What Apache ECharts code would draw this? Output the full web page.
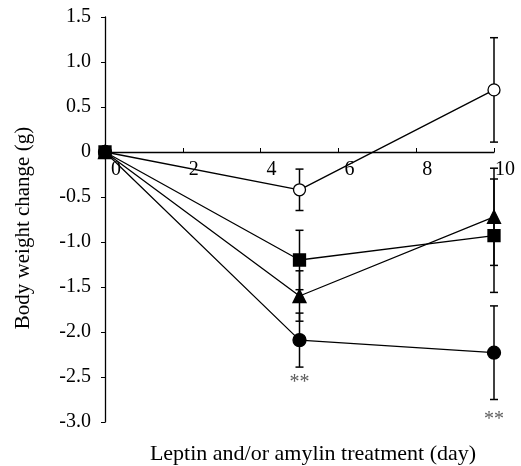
<!DOCTYPE html>
<html>
<head>
<meta charset="utf-8">
<script src="https://cdn.jsdelivr.net/npm/echarts@6/dist/echarts.min.js"></script>
<style>
html, body { margin: 0; padding: 0; background: #fff; }
#chart { width: 521px; height: 466px; }
</style>
</head>
<body>
<div id="chart"></div>
<script>
var days = [0, 5, 10];

// mean body weight change (g) and error per group
var openCircle = [0, -0.42, 0.69];
var openCircleErr = [0, 0.23, 0.58];
var square = [0, -1.20, -0.93];
var squareErr = [0, 0.33, 0.63];
var triangle = [0, -1.60, -0.72];
var triangleErr = [0, 0.28, 0.54];
var filledCircle = [0, -2.09, -2.23];
var filledCircleErr = [0, 0.30, 0.52];

// significance marks
var starDays = [5, 10];
var starY = [-2.56, -2.97];

var yTicks = ['-3.0', '-2.5', '-2.0', '-1.5', '-1.0', '-0.5', '0', '0.5', '1.0', '1.5'];

var serif = "'Liberation Serif', 'Times New Roman', serif";

function pts(vals) {
	return days.map(function (d, i) { return [d, vals[i]]; });
}

function errPts(vals, errs) {
	var out = [];
	for (var i = 0; i < days.length; i++) {
		if (errs[i] > 0) out.push([days[i], vals[i] - errs[i], vals[i] + errs[i]]);
	}
	return out;
}

function renderErr(params, api) {
	var x = api.value(0);
	var lo = api.coord([x, api.value(1)]);
	var hi = api.coord([x, api.value(2)]);
	var w = 4;
	var style = { stroke: '#000', lineWidth: 1.5 };
	return {
		type: 'group',
		children: [
			{ type: 'line', shape: { x1: lo[0], y1: lo[1], x2: hi[0], y2: hi[1] }, style: style },
			{ type: 'line', shape: { x1: lo[0] - w, y1: lo[1], x2: lo[0] + w, y2: lo[1] }, style: style },
			{ type: 'line', shape: { x1: hi[0] - w, y1: hi[1], x2: hi[0] + w, y2: hi[1] }, style: style }
		]
	};
}

function errSeries(vals, errs) {
	return {
		type: 'custom',
		renderItem: renderErr,
		data: errPts(vals, errs),
		z: 1,
		silent: true
	};
}

function lineSeries(vals, symbol, size, fill) {
	return {
		type: 'line',
		data: pts(vals),
		symbol: symbol,
		symbolSize: size,
		showAllSymbol: true,
		lineStyle: { color: '#000', width: 1.3 },
		itemStyle: { color: fill, borderColor: '#000', borderWidth: 1.3 },
		z: 3,
		animation: false
	};
}

var chart = echarts.init(document.getElementById('chart'));

var option = {
	animation: false,
	grid: { left: 105, right: 27, top: 17, bottom: 44 },
	xAxis: {
		type: 'value',
		min: 0,
		max: 10,
		interval: 2,
		// axis sits on y = 0 (405px grid, zero 135px from top)
		offset: -270,
		axisLine: { onZero: false, lineStyle: { color: '#000', width: 1.3 } },
		axisTick: { show: true, inside: true, length: 4, lineStyle: { color: '#000' } },
		axisLabel: {
			color: '#000', fontFamily: serif, fontSize: 20, margin: 8,
			padding: [0, 0, 0, 22]
		},
		splitLine: { show: false }
	},
	yAxis: {
		type: 'value',
		min: -3,
		max: 1.5,
		interval: 0.5,
		axisLine: { show: true, lineStyle: { color: '#000', width: 1.3 } },
		axisTick: { show: true, length: 4, lineStyle: { color: '#000' } },
		axisLabel: {
			color: '#000', fontFamily: serif, fontSize: 20, margin: 14,
			formatter: function (v) { return yTicks[Math.round((v + 3) / 0.5)]; }
		},
		splitLine: { show: false }
	},
	graphic: [
		{
			type: 'text',
			x: 313,
			y: 454,
			style: {
				text: 'Leptin and/or amylin treatment (day)',
				fill: '#000',
				align: 'center',
				verticalAlign: 'middle',
				font: "22px 'Liberation Serif', 'Times New Roman', serif"
			}
		},
		{
			type: 'text',
			x: 23,
			y: 228,
			rotation: Math.PI / 2,
			style: {
				text: 'Body weight change (g)',
				fill: '#000',
				align: 'center',
				verticalAlign: 'middle',
				font: "21px 'Liberation Serif', 'Times New Roman', serif"
			}
		}
	],
	series: [
		errSeries(openCircle, openCircleErr),
		errSeries(square, squareErr),
		errSeries(triangle, triangleErr),
		errSeries(filledCircle, filledCircleErr),
		lineSeries(openCircle, 'circle', 12, '#fff'),
		lineSeries(triangle, 'triangle', 13, '#000'),
		lineSeries(filledCircle, 'circle', 13, '#000'),
		lineSeries(square, 'rect', 12, '#000'),
		{
			type: 'scatter',
			data: starDays.map(function (d, i) { return [d, starY[i]]; }),
			symbolSize: 0,
			clip: false,
			label: {
				show: true,
				position: 'inside',
				formatter: '**',
				color: '#333',
				fontFamily: serif,
				fontSize: 20
			}
		}
	]
};

chart.setOption(option);
</script>
</body>
</html>
